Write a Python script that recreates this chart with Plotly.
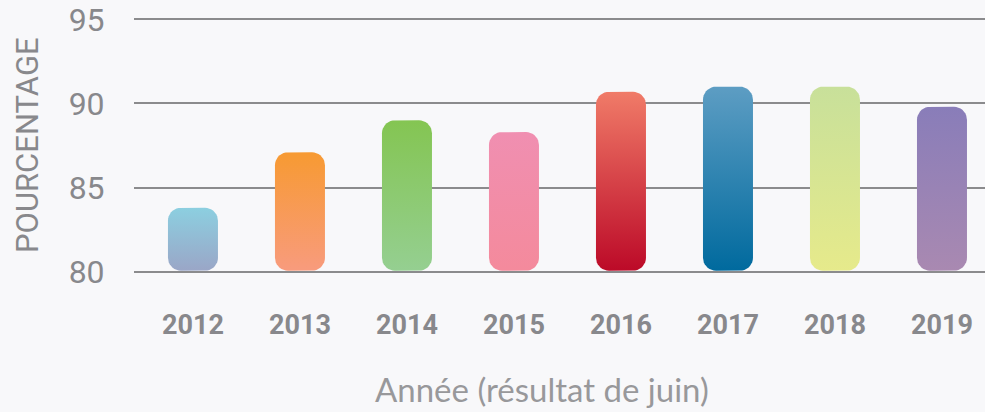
import numpy as np
import plotly.graph_objects as go

years = ["2012", "2013", "2014", "2015", "2016", "2017", "2018", "2019"]
values = [83.8, 87.1, 89.0, 88.3, 90.7, 91.0, 91.0, 89.8]
base_value = 80
top_colors = ["#8ccfe0", "#f79a32", "#84c552", "#f08fb1", "#f07b68", "#5d9dc3", "#c8e09a", "#897db9"]
bottom_colors = ["#9aa6c7", "#f89b7d", "#95cf91", "#f48a9c", "#bc0a28", "#006a9e", "#e6ea8b", "#a989b1"]
y_ticks = [80, 85, 90, 95]

BG = "#f8f8fa"
GRID = "#8b8b8d"
TXT = "#88888c"

W, H = 985, 412
ML, MR, MT, MB = 134, 0, 11, 132
x_range = [-0.551, 7.402]
y_range = [79.5, 95.5]
plot_w = W - ML - MR
plot_h = H - MT - MB
px_x = plot_w / (x_range[1] - x_range[0])
px_y = plot_h / (y_range[1] - y_range[0])

bar_px = 50
radius_px = 13


def rounded_rect(xc, y0, y1, half_w, rx, ry, n=10):
    xs, ys = [], []
    corners = [
        (xc + half_w - rx, y1 - ry, 0, 90),
        (xc - half_w + rx, y1 - ry, 90, 180),
        (xc - half_w + rx, y0 + ry, 180, 270),
        (xc + half_w - rx, y0 + ry, 270, 360),
    ]
    for cx, cy, a0, a1 in corners:
        t = np.radians(np.linspace(a0, a1, n))
        xs.extend(cx + rx * np.cos(t))
        ys.extend(cy + ry * np.sin(t))
    xs.append(xs[0])
    ys.append(ys[0])
    return xs, ys


fig = go.Figure()
half_w = bar_px / 2 / px_x
rx = radius_px / px_x
for i, (yr, v) in enumerate(zip(years, values)):
    ry = min(radius_px / px_y, (v - base_value) / 2)
    xs, ys = rounded_rect(i, base_value + 0.05, v, half_w, rx, ry)
    fig.add_trace(go.Scatter(
        x=xs, y=ys, mode="lines", fill="toself",
        line=dict(width=0, color=top_colors[i]),
        fillgradient=dict(type="vertical",
                          colorscale=[[0, bottom_colors[i]], [1, top_colors[i]]]),
        hoverinfo="skip", showlegend=False, name=yr,
    ))

fig.update_layout(
    width=W, height=H,
    margin=dict(l=ML, r=MR, t=MT, b=MB),
    paper_bgcolor=BG, plot_bgcolor=BG,
    xaxis=dict(
        range=x_range, tickvals=list(range(len(years))), ticktext=years,
        showgrid=False, zeroline=False, showline=False,
        ticks="outside", ticklen=21, tickcolor="rgba(0,0,0,0)",
        tickfont=dict(family="Roboto", size=27, color=TXT, weight="bold"),
        fixedrange=True,
    ),
    yaxis=dict(
        range=y_range, tickvals=y_ticks,
        showgrid=True, gridcolor=GRID, gridwidth=2,
        zeroline=False, showline=False,
        ticks="outside", ticklen=22, tickcolor="rgba(0,0,0,0)",
        ticklabeloverflow="allow",
        tickfont=dict(family="Roboto", size=32, color=TXT),
        fixedrange=True,
    ),
    annotations=[
        dict(text="Année (résultat de juin)", xref="paper", yref="paper",
             x=(542 - ML) / plot_w, y=(H - MB - 389) / plot_h,
             xanchor="center", yanchor="middle", showarrow=False,
             font=dict(family="Lato", size=33, color="#98989b")),
        dict(text="POURCENTAGE", xref="paper", yref="paper",
             x=(27 - ML) / plot_w, y=(H - MB - 145) / plot_h, textangle=-90,
             xanchor="center", yanchor="middle", showarrow=False,
             font=dict(family="Roboto", size=31, color=TXT)),
    ],
)

fig.write_html("out.html")
